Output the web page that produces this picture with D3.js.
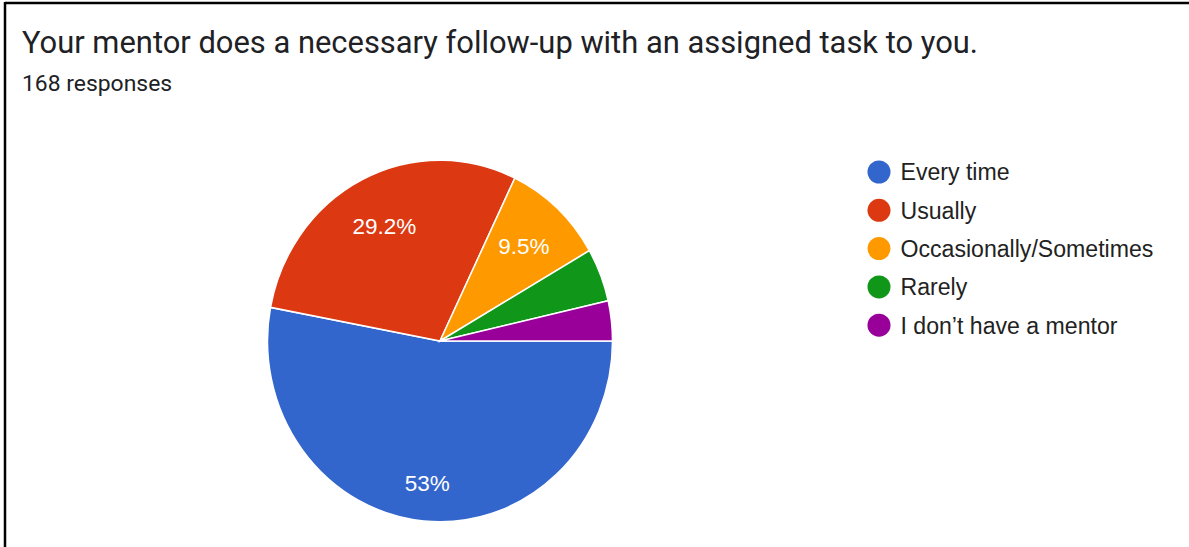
<!DOCTYPE html>
<html>
<head>
<meta charset="utf-8">
<script src="https://cdn.jsdelivr.net/npm/d3@7"></script>
<style>
  html, body { margin: 0; padding: 0; background: #fff; }
  svg { display: block; }
</style>
</head>
<body>
<svg id="chart" width="1189" height="547"></svg>
<script>
const titleText = "Your mentor does a necessary follow-up with an assigned task to you.";
const subtitleText = "168 responses";
const categories = ["Every time", "Usually", "Occasionally/Sometimes", "Rarely", "I don\u2019t have a mentor"];
const counts = [89, 49, 16, 8, 6];
const colors = ["#3366cc", "#dc3912", "#ff9900", "#109618", "#990099"];

const svg = d3.select("#chart");
const W = 1189, H = 547;

// frame
svg.append("line").attr("x1", 5).attr("x2", W).attr("y1", 3).attr("y2", 3)
  .attr("stroke", "#000").attr("stroke-width", 2.5);
svg.append("line").attr("x1", 5).attr("x2", 5).attr("y1", 2).attr("y2", H)
  .attr("stroke", "#000").attr("stroke-width", 2.5);

svg.append("text").attr("x", 22).attr("y", 53)
  .attr("font-family", "Roboto, sans-serif").attr("font-size", 30.9)
  .attr("fill", "#202124").text(titleText);
svg.append("text").attr("x", 22).attr("y", 91)
  .attr("font-family", "Roboto, sans-serif").attr("font-size", 22.9)
  .attr("fill", "#202124").text(subtitleText);

const cx = 440, cy = 341, r = 172.5, sy = 1.048;
const total = d3.sum(counts);
const pie = d3.pie().sort(null).value(d => d)
  .startAngle(Math.PI / 2).endAngle(Math.PI / 2 + 2 * Math.PI);
const arcs = pie(counts);
const arc = d3.arc().innerRadius(0).outerRadius(r);

const g = svg.append("g").attr("transform", `translate(${cx},${cy})`);
g.append("g").attr("transform", `scale(1,${sy})`)
  .selectAll("path").data(arcs).join("path")
  .attr("d", arc)
  .attr("fill", (d, i) => colors[i])
  .attr("stroke", "#fff").attr("stroke-width", 1.5);

const fmt = v => {
  const p = v / total * 100;
  return (Math.round(p * 10) / 10).toString().replace(/\.0$/, "") + "%";
};
g.selectAll("text.lbl").data(arcs.filter(d => d.value / total >= 0.05)).join("text")
  .attr("class", "lbl")
  .each(function(d) {
    const frac = (d.endAngle - d.startAngle) / (2 * Math.PI);
    const lr = r * (frac > 0.5 ? 0.79 : 0.715);
    const a = (d.startAngle + d.endAngle) / 2;
    d3.select(this)
      .attr("x", lr * Math.sin(a))
      .attr("y", -lr * Math.cos(a) * sy)
      .attr("dy", "0.35em");
  })
  .attr("text-anchor", "middle")
  .attr("font-family", "Arial, 'Liberation Sans', sans-serif")
  .attr("font-size", 22.5)
  .attr("fill", "#fff")
  .text(d => fmt(d.value));

const legend = svg.append("g");
const rows = legend.selectAll("g").data(categories).join("g")
  .attr("transform", (d, i) => `translate(879,${172 + i * 38.3})`);
rows.append("circle").attr("r", 11.5).attr("fill", (d, i) => colors[i]);
rows.append("text").attr("x", 21.5).attr("dy", "0.36em")
  .attr("font-family", "Arial, 'Liberation Sans', sans-serif")
  .attr("font-size", 23.1).attr("fill", "#222")
  .text(d => d);
</script>
</body>
</html>
